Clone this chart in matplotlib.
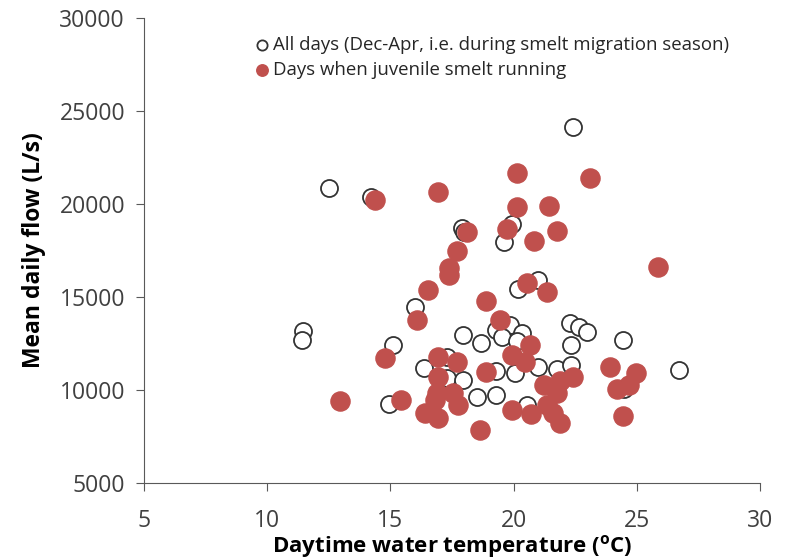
import numpy as np
import matplotlib
matplotlib.use("Agg")
import matplotlib.pyplot as plt

plt.rcParams['font.family'] = ['Open Sans', 'DejaVu Sans']

# all days in the Dec-Apr season (open circles)
all_temp = [12.5, 14.2, 22.4, 11.45, 11.4, 16.0, 15.1, 14.95, 16.35, 17.3,
            17.3, 17.95, 17.95, 18.7, 18.5, 19.3, 19.3, 20.05, 19.3, 19.85,
            20.35, 19.55, 20.15, 21.0, 21.75, 22.35, 22.35, 22.3, 22.65, 23.0,
            24.45, 26.7, 20.55, 20.2, 21.0, 17.9, 18.0, 19.95, 19.6, 24.5]
all_flow = [20860, 20380, 24140, 13170, 12690, 14460, 12420, 9250, 11180, 11770,
            10650, 10540, 12960, 12530, 9620, 9730, 11020, 10910, 13230, 13500,
            13070, 12850, 12640, 11240, 11130, 11350, 12420, 13600, 13390, 13120,
            12690, 11080, 9200, 15430, 15920, 18710, 18500, 18930, 17960, 10050]

# days when juvenile smelt were running (filled red)
run_temp = [14.4, 16.95, 20.15, 23.1, 20.15, 21.45, 18.1, 19.75, 20.85, 21.75,
            17.7, 17.4, 17.4, 25.85, 20.55, 21.35, 16.55, 18.9, 16.1, 19.45,
            20.65, 14.8, 16.95, 17.7, 19.95, 20.45, 16.95, 18.9, 21.25, 21.9,
            22.4, 21.75, 23.9, 24.95, 24.7, 24.2, 12.95, 15.45, 16.9, 16.8,
            17.55, 17.75, 16.4, 16.95, 18.65, 19.95, 20.7, 21.35, 21.6, 21.9,
            24.45]
run_flow = [20220, 20650, 21670, 21400, 19840, 19890, 18500, 18660, 18010, 18550,
            17470, 16560, 16180, 16610, 15750, 15270, 15380, 14790, 13760, 13760,
            12420, 11720, 11780, 11510, 11880, 11510, 10700, 10970, 10270, 10490,
            10700, 9840, 11240, 10920, 10270, 10060, 9410, 9460, 9840, 9460,
            9840, 9200, 8770, 8500, 7850, 8930, 8710, 9200, 8770, 8230,
            8600]

fig = plt.figure(figsize=(7.9, 5.59), dpi=100)
ax = fig.add_axes([0.182, 0.136, 0.78, 0.832])

ax.scatter(all_temp, all_flow, s=150, facecolors='white', edgecolors='#333333',
           linewidths=1.3, zorder=2,
           label='All days (Dec-Apr, i.e. during smelt migration season)')
ax.scatter(run_temp, run_flow, s=190, color='#C0504D', edgecolors='#C0504D',
           zorder=3, label='Days when juvenile smelt running')

ax.set_xlim(5, 30)
ax.set_ylim(5000, 30000)
ax.set_xticks(np.arange(5, 31, 5))
ax.set_yticks(np.arange(5000, 30001, 5000))
ax.spines['top'].set_visible(False)
ax.spines['right'].set_visible(False)
for s in ['left', 'bottom']:
    ax.spines[s].set_color('#595959')
ax.tick_params(direction='out', length=5.5, color='#595959', labelcolor='#404040',
               labelsize=16.5)
ax.tick_params(axis='x', pad=13)
ax.tick_params(axis='y', pad=8)

ax.set_xlabel('Daytime water temperature ($\\mathregular{^o}$C)', fontsize=16,
              fontweight='bold', labelpad=0)
ax.set_ylabel('Mean daily flow (L/s)', fontsize=16.5, fontweight='bold', labelpad=10)

leg = ax.legend(loc='upper left', bbox_to_anchor=(0.155, 0.985), frameon=False,
                fontsize=13.4, handletextpad=0.0, labelspacing=0.38,
                markerscale=0.6, handlelength=1.2, borderaxespad=0.2)
for t in leg.get_texts():
    t.set_color('#262626')

plt.savefig('out.png', dpi=100)
